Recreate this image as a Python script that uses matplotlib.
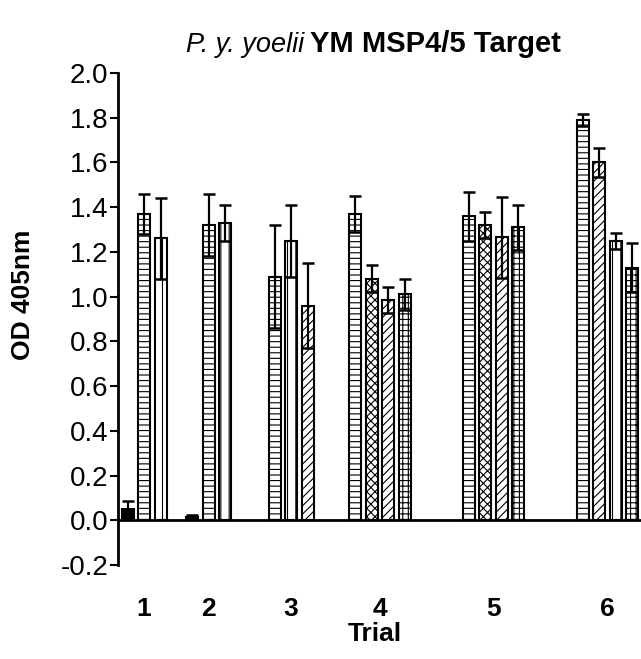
import numpy as np
import matplotlib
matplotlib.use("Agg")
from matplotlib import pyplot
from matplotlib.ticker import FormatStrFormatter

pyplot.rcParams["font.family"] = ["Liberation Sans", "DejaVu Sans"]
pyplot.rcParams["hatch.linewidth"] = 0.8

# data
trials = ["1", "2", "3", "4", "5", "6"]
bar_trial = [0, 0, 0,
             1, 1, 1,
             2, 2, 2,
             3, 3, 3, 3,
             4, 4, 4, 4,
             5, 5, 5, 5]
bar_kind = ["solid", "horiz", "vert",
            "solid", "horiz", "vert",
            "horiz", "vert", "diag",
            "horiz", "cross", "diag", "grid",
            "horiz", "cross", "diag", "grid",
            "horiz", "diag", "vert", "grid"]
bar_mean = [0.05, 1.37, 1.26,
            0.015, 1.32, 1.33,
            1.09, 1.25, 0.96,
            1.37, 1.08, 0.985, 1.01,
            1.36, 1.32, 1.265, 1.31,
            1.79, 1.60, 1.25, 1.13]
bar_err = [0.035, 0.09, 0.18,
           0.01, 0.14, 0.08,
           0.23, 0.16, 0.19,
           0.08, 0.06, 0.06, 0.07,
           0.11, 0.06, 0.18, 0.10,
           0.025, 0.065, 0.035, 0.11]

# layout (x units ~ pixels right of the y axis)
trial_center = [26, 90.5, 173, 262, 375.5, 489.5]
pitch = 16.5
width = 12

styles = {
    "solid": dict(facecolor="black", hatch=None),
    "horiz": dict(facecolor="white", hatch="---"),
    "vert": dict(facecolor="white", hatch="||"),
    "diag": dict(facecolor="white", hatch="////"),
    "cross": dict(facecolor="white", hatch="xxxx"),
    "grid": dict(facecolor="white", hatch="+++"),
}

fig = pyplot.figure(figsize=(6.41, 6.59), dpi=100)
ax = fig.add_axes([118 / 641, 1 - 565 / 659, 1 - 118 / 641, (565 - 73) / 659])

xs = []
for t in range(len(trials)):
    idx = [i for i in range(len(bar_trial)) if bar_trial[i] == t]
    n = len(idx)
    for k, i in enumerate(idx):
        xs.append((i, trial_center[t] + (k - (n - 1) / 2) * pitch))
xs = [x for i, x in sorted(xs)]

for i in range(len(bar_mean)):
    st = styles[bar_kind[i]]
    ax.bar(xs[i], bar_mean[i], width=width, facecolor=st["facecolor"],
           edgecolor="black", linewidth=1.5, hatch=st["hatch"], zorder=2)
ax.errorbar(xs, bar_mean, yerr=bar_err, fmt="none", ecolor="black",
            elinewidth=1.6, capsize=4, capthick=1.8, zorder=3)

ax.axhline(0, color="black", linewidth=2, zorder=4)
ax.set_xlim(0, 523)
ax.set_ylim(-0.2, 2.0)
ax.set_yticks(np.arange(-0.2, 2.01, 0.2))
ax.yaxis.set_major_formatter(FormatStrFormatter("%.1f"))
ax.tick_params(axis="y", labelsize=20, length=6, width=1.5, pad=1)
ax.set_xticks(trial_center)
ax.set_xticklabels(trials, fontsize=19, fontweight="bold")
ax.tick_params(axis="x", length=0, pad=23)

for s in ["top", "right", "bottom"]:
    ax.spines[s].set_visible(False)
ax.spines["left"].set_linewidth(2)

ax.set_xlabel("Trial", fontsize=19, fontweight="bold", labelpad=0)
ax.xaxis.set_label_coords(257 / 523, -0.115)
ax.set_ylabel("OD 405nm", fontsize=19, fontweight="bold")
ax.yaxis.set_label_coords(-0.158, 0.549)

fig.text(304 / 641, 1 - 52 / 659, "P. y. yoelii", fontsize=19.5, style="italic",
         ha="right", va="baseline")
fig.text(310 / 641, 1 - 52 / 659, "YM MSP4/5 Target", fontsize=21,
         fontweight="bold", ha="left", va="baseline")

fig.savefig("out.png", dpi=100)
